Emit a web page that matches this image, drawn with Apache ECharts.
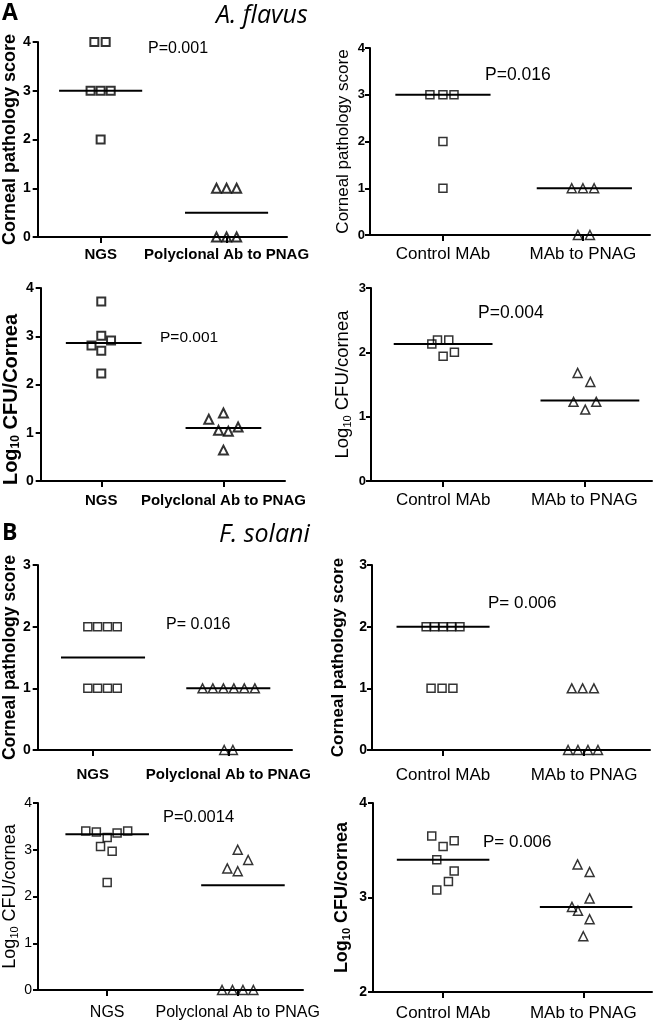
<!DOCTYPE html>
<html><head><meta charset="utf-8">
<script src="https://cdn.jsdelivr.net/npm/echarts@6/dist/echarts.min.js"></script>
<style>html,body{margin:0;padding:0;background:#fff}#c{width:656px;height:1023px}</style>
</head><body><div id="c"></div><script>
// ---------- categories / labels ----------
const catsPoly = ['NGS', 'Polyclonal Ab to PNAG'];
const catsMAb = ['Control MAb', 'MAb to PNAG'];
const nameScore = 'Corneal pathology score';

// ---------- A. flavus : pathology, polyclonal ----------
const a1GroupAy = [4, 4, 3, 3, 3, 2];
const a1GroupAx = [0.95, 1.04, 0.92, 1.0, 1.08, 1.0];
const a1GroupBy = [1, 1, 1, 0, 0, 0];
const a1GroupBx = [1.92, 2.0, 2.08, 1.92, 2.0, 2.08];
const a1Medians = [3, 0.5];
const a1MedianX = [1.0, 2.0];

// ---------- A. flavus : pathology, MAb ----------
const a2GroupAy = [3, 3, 3, 2, 1];
const a2GroupAx = [0.907, 1.0, 1.079, 1.0, 1.0];
const a2GroupBy = [1, 1, 1, 0, 0];
const a2GroupBx = [1.92, 2.0, 2.08, 1.964, 2.05];
const a2Medians = [3, 1];
const a2MedianX = [1.0, 2.01];

// ---------- A. flavus : CFU, polyclonal ----------
const a3GroupAy = [3.72, 3.01, 2.81, 2.91, 2.70, 2.23];
const a3GroupAx = [1.0, 1.0, 0.92, 1.08, 1.0, 1.0];
const a3GroupBy = [1.28, 1.41, 1.05, 1.03, 1.12, 0.64];
const a3GroupBx = [1.88, 2.0, 1.96, 2.04, 2.12, 2.0];
const a3Medians = [2.86, 1.10];
const a3MedianX = [1.02, 2.0];

// ---------- A. flavus : CFU, MAb ----------
const a4GroupAy = [2.13, 2.19, 2.19, 1.94, 2.0];
const a4GroupAx = [0.92, 0.96, 1.04, 1.0, 1.08];
const a4GroupBy = [1.68, 1.54, 1.23, 1.23, 1.11];
const a4GroupBx = [1.953, 2.043, 1.924, 2.085, 2.007];
const a4Medians = [2.13, 1.25];
const a4MedianX = [1.0, 2.04];

// ---------- F. solani : pathology, polyclonal ----------
const b1GroupAy = [2, 2, 2, 2, 1, 1, 1, 1];
const b1GroupAx = [0.964, 1.036, 1.109, 1.181, 0.964, 1.036, 1.109, 1.181];
const b1GroupBy = [1, 1, 1, 1, 1, 1, 0, 0];
const b1GroupBx = [1.81, 1.886, 1.964, 2.041, 2.118, 2.196, 1.97, 2.034];
const b1Medians = [1.5, 1];
const b1MedianX = [1.076, 2.0];

// ---------- F. solani : pathology, MAb ----------
const b2GroupAy = [2, 2, 2, 2, 2, 1, 1, 1];
const b2GroupAx = [0.88, 0.94, 1.0, 1.06, 1.12, 0.915, 0.993, 1.07];
const b2GroupBy = [1, 1, 1, 0, 0, 0, 0];
const b2GroupBx = [1.913, 1.99, 2.07, 1.887, 1.957, 2.028, 2.099];
const b2Medians = [2, 0];
const b2MedianX = [1.0, 2.0];

// ---------- F. solani : CFU, polyclonal ----------
const b3GroupAy = [3.40, 3.38, 3.26, 3.36, 3.40, 3.07, 2.97, 2.30];
const b3GroupAx = [0.836, 0.917, 1.0, 1.076, 1.157, 0.949, 1.038, 1.0];
const b3GroupBy = [3.0, 2.78, 2.60, 2.54, 0, 0, 0, 0];
const b3GroupBx = [2.0, 2.08, 1.92, 2.0, 1.88, 1.96, 2.04, 2.12];
const b3Medians = [3.33, 2.24];
const b3MedianX = [1.0, 2.04];

// ---------- F. solani : CFU, MAb ----------
const b4GroupAy = [3.65, 3.54, 3.60, 3.40, 3.28, 3.17, 3.08];
const b4GroupAx = [0.919, 1.0, 1.079, 0.955, 1.079, 1.038, 0.955];
const b4GroupBy = [3.35, 3.27, 2.99, 2.90, 2.86, 2.77, 2.59];
const b4GroupBx = [1.959, 2.045, 2.045, 1.919, 1.962, 2.045, 2.0];
const b4Medians = [3.40, 2.90];
const b4MedianX = [1.0, 2.02];

const pValues = ['P=0.001', 'P=0.016', 'P=0.001', 'P=0.004', 'P= 0.016', 'P= 0.006', 'P=0.0014', 'P= 0.006'];
const yRanges = [[0, 4], [0, 4], [0, 4], [0, 3], [0, 3], [0, 3], [0, 4], [2, 4]];

// ---------- layout / style per panel ----------
const FF = 'Liberation Sans, Arial, sans-serif';
const panels = [
  {grid:{left:33,top:42,width:254,height:195}, xr:[0.5,2.48], cats:catsPoly,
   A:[a1GroupAx,a1GroupAy], B:[a1GroupBx,a1GroupBy], med:a1Medians, medX:a1MedianX, half:0.33,
   name:{log:false, bold:true, fs:18, gap:16}, tick:{bold:true, fs:14, m:7}, cat:{bold:true, fs:15, m:10},
   p:{pos:[148,49], fs:16}, bw:2},
  {grid:{left:370,top:48,width:280,height:187}, xr:[0.479,2.479], cats:catsMAb,
   A:[a2GroupAx,a2GroupAy], B:[a2GroupBx,a2GroupBy], med:a2Medians, medX:a2MedianX, half:0.34,
   name:{log:false, bold:false, fs:17, gap:18}, tick:{bold:true, fs:13, m:5}, cat:{bold:false, fs:17, m:11},
   p:{pos:[485,75], fs:17.5}, bw:1.5},
  {grid:{left:35,top:288,width:250,height:193}, xr:[0.504,2.504], cats:catsPoly,
   A:[a3GroupAx,a3GroupAy], B:[a3GroupBx,a3GroupBy], med:a3Medians, medX:a3MedianX, half:0.31,
   name:{log:true, word:'Cornea', bold:true, fs:20, gap:16, pad:[0,30,0,0]}, tick:{bold:true, fs:14, m:7}, cat:{bold:true, fs:15, m:12},
   p:{pos:[160,337], fs:15.5}, bw:2},
  {grid:{left:371,top:288,width:281,height:193}, xr:[0.489,2.48], cats:catsMAb,
   A:[a4GroupAx,a4GroupAy], B:[a4GroupBx,a4GroupBy], med:a4Medians, medX:a4MedianX, half:0.35,
   name:{log:true, word:'cornea', bold:false, fs:18.5, gap:18}, tick:{bold:true, fs:13, m:5}, cat:{bold:false, fs:17, m:11},
   p:{pos:[478,313], fs:17.5}, bw:1.5},
  {grid:{left:33,top:565,width:259,height:185}, xr:[0.594,2.47], cats:catsPoly,
   A:[b1GroupAx,b1GroupAy], B:[b1GroupBx,b1GroupBy], med:b1Medians, medX:b1MedianX, half:0.31,
   name:{log:false, bold:true, fs:17.5, gap:18}, tick:{bold:true, fs:14, m:7}, cat:{bold:true, fs:15, m:17},
   p:{pos:[166,625], fs:16}, bw:1.5},
  {grid:{left:372,top:565,width:278,height:185}, xr:[0.496,2.468], cats:catsMAb,
   A:[b2GroupAx,b2GroupAy], B:[b2GroupBx,b2GroupBy], med:b2Medians, medX:b2MedianX, half:0.33,
   name:{log:false, bold:true, fs:17, gap:25}, tick:{bold:true, fs:14, m:5}, cat:{bold:false, fs:17, m:17},
   p:{pos:[488,603], fs:17}, bw:1.5},
  {grid:{left:35,top:803,width:268,height:187}, xr:[0.47,2.5], cats:catsPoly,
   A:[b3GroupAx,b3GroupAy], B:[b3GroupBx,b3GroupBy], med:b3Medians, medX:b3MedianX, half:0.32,
   name:{log:true, word:'cornea', bold:false, fs:18, gap:18}, tick:{bold:false, fs:14, m:6}, cat:{bold:false, fs:16, m:15},
   p:{pos:[163,817], fs:16.5}, bw:1.5},
  {grid:{left:373,top:803,width:279,height:189}, xr:[0.5,2.49], cats:catsMAb,
   A:[b4GroupAx,b4GroupAy], B:[b4GroupBx,b4GroupBy], med:b4Medians, medX:b4MedianX, half:0.33,
   name:{log:true, word:'cornea', bold:true, fs:18, gap:21}, tick:{bold:true, fs:14, m:6}, cat:{bold:false, fs:17, m:13},
   p:{pos:[483,842], fs:17}, bw:1.5}
];

const grids = [], xAxes = [], yAxes = [], series = [], graphics = [];
const zip = (xs, ys) => xs.map((x, i) => [x, ys[i]]);

panels.forEach((P, i) => {
  grids.push(Object.assign({containLabel:false}, P.grid));
  const cats = P.cats;
  xAxes.push({
    type:'value', gridIndex:i, min:P.xr[0], max:P.xr[1],
    splitLine:{show:false},
    axisLine:{show:true, onZero:false, lineStyle:{color:'#000', width:2}},
    axisTick:{show:true, customValues:[1,2], length:6, lineStyle:{color:'#000', width:2}},
    axisLabel:{show:true, customValues:[1,2], margin:P.cat.m, color:'#000', fontFamily:FF,
      fontSize:P.cat.fs, fontWeight:P.cat.bold?'bold':'normal',
      formatter:(v)=> cats[Math.round(v)-1] || ''}
  });
  const wt = P.name.bold ? 'bold' : 'normal';
  const nameObj = P.name.log ? {
    name:'{m|Log}{s|10}{m| CFU/' + P.name.word + '}',
    nameTextStyle:{color:'#000', fontFamily:FF, fontSize:P.name.fs, fontWeight:wt, padding:P.name.pad || 0,
      rich:{m:{fontFamily:FF, fontSize:P.name.fs, fontWeight:wt, color:'#000', lineHeight:P.name.fs+2},
            s:{fontFamily:FF, fontSize:Math.round(P.name.fs*0.6), fontWeight:wt, color:'#000', verticalAlign:'bottom', lineHeight:8}}}
  } : {
    name:nameScore,
    nameTextStyle:{color:'#000', fontFamily:FF, fontSize:P.name.fs, fontWeight:wt}
  };
  yAxes.push(Object.assign({
    type:'value', gridIndex:i, min:yRanges[i][0], max:yRanges[i][1], interval:1,
    nameLocation:'middle', nameGap:P.name.gap, nameRotate:90,
    splitLine:{show:false},
    axisLine:{show:true, onZero:false, lineStyle:{color:'#000', width:2}},
    axisTick:{show:true, length:5, lineStyle:{color:'#000', width:2}},
    axisLabel:{margin:P.tick.m, color:'#000', fontFamily:FF, fontSize:P.tick.fs, fontWeight:P.tick.bold?'bold':'normal'}
  }, nameObj));

  // median lines
  P.med.forEach((m, k) => {
    series.push({type:'line', xAxisIndex:i, yAxisIndex:i, symbol:'none', silent:true, z:3,
      lineStyle:{color:'#000', width:2},
      data:[[P.medX[k]-P.half, m], [P.medX[k]+P.half, m]]});
  });
  series.push({type:'scatter', xAxisIndex:i, yAxisIndex:i, symbol:'rect', symbolSize:8, z:4,
    itemStyle:{color:'rgba(255,255,255,0)', borderColor:'#000', borderWidth:P.bw},
    data:zip(P.A[0], P.A[1])});
  series.push({type:'scatter', xAxisIndex:i, yAxisIndex:i, symbol:'triangle', symbolSize:9, z:4,
    itemStyle:{color:'rgba(255,255,255,0)', borderColor:'#000', borderWidth:P.bw},
    data:zip(P.B[0], P.B[1])});

  graphics.push({type:'text', left:P.p.pos[0], top:P.p.pos[1]-P.p.fs/2,
    style:{text:pValues[i], fill:'#000', font:'normal ' + P.p.fs + 'px ' + FF}});
});

graphics.push({type:'text', left:2, top:2, style:{text:'A', fill:'#000', font:'bold 23px "Open Sans", sans-serif'}});
graphics.push({type:'text', left:216, top:3, style:{text:'A. flavus', fill:'#000', font:'italic 25px "Open Sans", sans-serif'}});
graphics.push({type:'text', left:2, top:522, style:{text:'B', fill:'#000', font:'bold 23px "Open Sans", sans-serif'}});
graphics.push({type:'text', left:219, top:522, style:{text:'F. solani', fill:'#000', font:'italic 25px "Open Sans", sans-serif'}});

const chart = echarts.init(document.getElementById('c'), null, {renderer:'canvas'});
chart.setOption({
  animation:false, backgroundColor:'#fff',
  grid:grids, xAxis:xAxes, yAxis:yAxes, series:series, graphic:graphics
});
</script></body></html>
